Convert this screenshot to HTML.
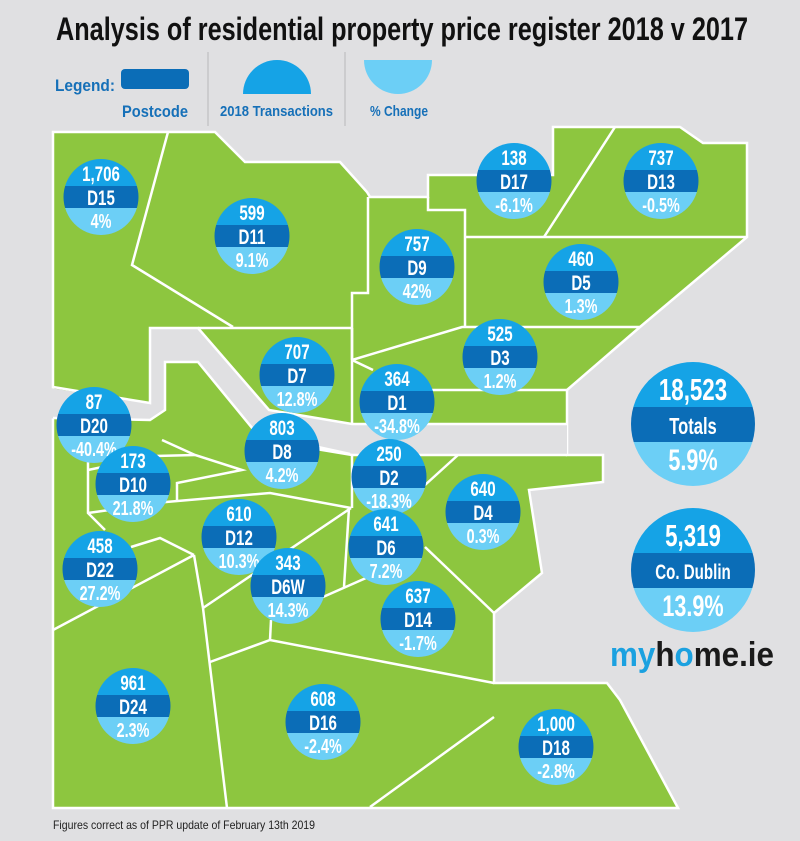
<!DOCTYPE html>
<html><head><meta charset="utf-8"><style>
html,body{margin:0;padding:0;background:#e0e0e2;}
svg{display:block;}
.t{font-family:"Liberation Sans",sans-serif;font-weight:bold;fill:#fff;text-anchor:middle;transform:scaleX(0.72);}
</style></head><body>
<svg width="800" height="841" viewBox="0 0 800 841" xmlns="http://www.w3.org/2000/svg">
<defs>
<clipPath id="c"><ellipse cx="0" cy="0" rx="37.5" ry="38"/></clipPath>
<clipPath id="cb"><circle cx="0" cy="0" r="62"/></clipPath>
<g id="cc"><g clip-path="url(#c)"><rect x="-40" y="-40" width="80" height="29" fill="#15a3e6"/><rect x="-40" y="-11" width="80" height="22" fill="#0b6db7"/><rect x="-40" y="11" width="80" height="30" fill="#6ccff6"/></g></g>
</defs>
<rect width="800" height="841" fill="#e0e0e2"/>
<text x="402" y="40" text-anchor="middle" textLength="692" lengthAdjust="spacingAndGlyphs" style="font-family:'Liberation Sans',sans-serif;font-weight:bold;font-size:32px;fill:#111">Analysis of residential property price register 2018 v 2017</text>
<!-- legend -->
<text x="55" y="91" textLength="60" lengthAdjust="spacingAndGlyphs" style="font-family:'Liberation Sans',sans-serif;font-weight:bold;font-size:17px;fill:#1670b8">Legend:</text>
<rect x="121" y="69" width="68" height="20" rx="4" fill="#0b6db7"/>
<text x="122" y="117" textLength="66" lengthAdjust="spacingAndGlyphs" style="font-family:'Liberation Sans',sans-serif;font-weight:bold;font-size:17px;fill:#1670b8">Postcode</text>
<line x1="208" y1="52" x2="208" y2="126" stroke="#b8b8bb" stroke-width="1"/>
<path d="M243 94 A34 34 0 0 1 311 94 Z" fill="#15a3e6"/>
<text x="220" y="116" textLength="113" lengthAdjust="spacingAndGlyphs" style="font-family:'Liberation Sans',sans-serif;font-weight:bold;font-size:15px;fill:#1670b8">2018 Transactions</text>
<line x1="345" y1="52" x2="345" y2="126" stroke="#b8b8bb" stroke-width="1"/>
<path d="M364 60 L432 60 A34 34 0 0 1 364 60 Z" fill="#6ccff6"/>
<text x="370" y="116" textLength="58" lengthAdjust="spacingAndGlyphs" style="font-family:'Liberation Sans',sans-serif;font-weight:bold;font-size:15px;fill:#1670b8">% Change</text>
<!-- map -->
<polygon points="53,132 215,132 245,162 340,162 367,192 370,197 428,197 428,175 553,175 553,127 680,127 703,143 747,143 747,237 640,327 567,390 567,455 603,455 603,482 529,490 542,573 494,613 494,683 607,683 620,700 678,808 53,808" fill="#8dc63f" stroke="#fff" stroke-width="2.5"/>
<polygon points="30,385 150,403 150,328 198,328 269,410 352,424 567,424 567,455 352,455 262,440 198,362 165,362 165,410 150,420 30,418" fill="#e0e0e2"/>
<g stroke="#fff" stroke-width="2.5" fill="none">
<polyline points="53,387 150,403 150,328 198,328 269,410 352,424 567,424"/>
<polyline points="567,455 352,455 262,440 198,362 165,362 165,410 150,420 53,418"/>
<polyline points="168,132 132,265 233,327"/>
<polyline points="198,328 352,328"/>
<polyline points="368,197 368,293 352,293 352,360"/>
<polyline points="352,360 462,327 640,327"/>
<polyline points="428,197 428,210 465,210 465,328"/>
<line x1="615" y1="127" x2="544" y2="237"/>
<line x1="465" y1="237" x2="747" y2="237"/>
<line x1="352" y1="328" x2="352" y2="424"/>
<line x1="352" y1="360" x2="373" y2="370"/>
<polyline points="430,390 567,390"/>
<polyline points="162,440 195,455 242,470 177,483 177,502"/>
<line x1="155" y1="456" x2="195" y2="455"/>
<polyline points="88,445 88,513 105,530"/>
<line x1="88" y1="470" x2="155" y2="456"/>
<polyline points="166,502 270,493 351,508"/>
<line x1="318" y1="447" x2="350" y2="454"/>
<line x1="458" y1="455" x2="425" y2="485"/>
<line x1="352" y1="455" x2="352" y2="508"/>
<line x1="88" y1="513" x2="166" y2="502"/>
<polyline points="131,547 160,538 194,555"/>
<line x1="53" y1="630" x2="194" y2="555"/>
<polyline points="194,555 203,608 227,808"/>
<line x1="203" y1="608" x2="351" y2="508"/>
<polyline points="210,662 270,640 494,683"/>
<line x1="270" y1="640" x2="271" y2="620"/>
<line x1="344" y1="587" x2="349" y2="508"/>
<line x1="323" y1="597" x2="366" y2="578"/>
<line x1="494" y1="717" x2="370" y2="807"/>
<line x1="425" y1="547" x2="494" y2="613"/>
</g>
<!-- circles -->
<g transform="translate(101,197)"><use href="#cc"/><text class="t" y="-16" font-size="21">1,706</text><text class="t" y="8" font-size="21">D15</text><text class="t" y="31" font-size="20">4%</text></g>
<g transform="translate(252,236)"><use href="#cc"/><text class="t" y="-16" font-size="21">599</text><text class="t" y="8" font-size="21">D11</text><text class="t" y="31" font-size="20">9.1%</text></g>
<g transform="translate(514,181)"><use href="#cc"/><text class="t" y="-16" font-size="21">138</text><text class="t" y="8" font-size="21">D17</text><text class="t" y="31" font-size="20">-6.1%</text></g>
<g transform="translate(661,181)"><use href="#cc"/><text class="t" y="-16" font-size="21">737</text><text class="t" y="8" font-size="21">D13</text><text class="t" y="31" font-size="20">-0.5%</text></g>
<g transform="translate(417,267)"><use href="#cc"/><text class="t" y="-16" font-size="21">757</text><text class="t" y="8" font-size="21">D9</text><text class="t" y="31" font-size="20">42%</text></g>
<g transform="translate(581,282)"><use href="#cc"/><text class="t" y="-16" font-size="21">460</text><text class="t" y="8" font-size="21">D5</text><text class="t" y="31" font-size="20">1.3%</text></g>
<g transform="translate(500,357)"><use href="#cc"/><text class="t" y="-16" font-size="21">525</text><text class="t" y="8" font-size="21">D3</text><text class="t" y="31" font-size="20">1.2%</text></g>
<g transform="translate(297,375)"><use href="#cc"/><text class="t" y="-16" font-size="21">707</text><text class="t" y="8" font-size="21">D7</text><text class="t" y="31" font-size="20">12.8%</text></g>
<g transform="translate(397,402)"><use href="#cc"/><text class="t" y="-16" font-size="21">364</text><text class="t" y="8" font-size="21">D1</text><text class="t" y="31" font-size="20">-34.8%</text></g>
<g transform="translate(94,425)"><use href="#cc"/><text class="t" y="-16" font-size="21">87</text><text class="t" y="8" font-size="21">D20</text><text class="t" y="31" font-size="20">-40.4%</text></g>
<g transform="translate(282,451)"><use href="#cc"/><text class="t" y="-16" font-size="21">803</text><text class="t" y="8" font-size="21">D8</text><text class="t" y="31" font-size="20">4.2%</text></g>
<g transform="translate(133,484)"><use href="#cc"/><text class="t" y="-16" font-size="21">173</text><text class="t" y="8" font-size="21">D10</text><text class="t" y="31" font-size="20">21.8%</text></g>
<g transform="translate(389,477)"><use href="#cc"/><text class="t" y="-16" font-size="21">250</text><text class="t" y="8" font-size="21">D2</text><text class="t" y="31" font-size="20">-18.3%</text></g>
<g transform="translate(483,512)"><use href="#cc"/><text class="t" y="-16" font-size="21">640</text><text class="t" y="8" font-size="21">D4</text><text class="t" y="31" font-size="20">0.3%</text></g>
<g transform="translate(239,537)"><use href="#cc"/><text class="t" y="-16" font-size="21">610</text><text class="t" y="8" font-size="21">D12</text><text class="t" y="31" font-size="20">10.3%</text></g>
<g transform="translate(386,547)"><use href="#cc"/><text class="t" y="-16" font-size="21">641</text><text class="t" y="8" font-size="21">D6</text><text class="t" y="31" font-size="20">7.2%</text></g>
<g transform="translate(288,586)"><use href="#cc"/><text class="t" y="-16" font-size="21">343</text><text class="t" y="8" font-size="21">D6W</text><text class="t" y="31" font-size="20">14.3%</text></g>
<g transform="translate(100,569)"><use href="#cc"/><text class="t" y="-16" font-size="21">458</text><text class="t" y="8" font-size="21">D22</text><text class="t" y="31" font-size="20">27.2%</text></g>
<g transform="translate(418,619)"><use href="#cc"/><text class="t" y="-16" font-size="21">637</text><text class="t" y="8" font-size="21">D14</text><text class="t" y="31" font-size="20">-1.7%</text></g>
<g transform="translate(133,706)"><use href="#cc"/><text class="t" y="-16" font-size="21">961</text><text class="t" y="8" font-size="21">D24</text><text class="t" y="31" font-size="20">2.3%</text></g>
<g transform="translate(323,722)"><use href="#cc"/><text class="t" y="-16" font-size="21">608</text><text class="t" y="8" font-size="21">D16</text><text class="t" y="31" font-size="20">-2.4%</text></g>
<g transform="translate(556,747)"><use href="#cc"/><text class="t" y="-16" font-size="21">1,000</text><text class="t" y="8" font-size="21">D18</text><text class="t" y="31" font-size="20">-2.8%</text></g>
<!-- big -->
<g transform="translate(693,424)"><g clip-path="url(#cb)"><rect x="-65" y="-65" width="130" height="48" fill="#15a3e6"/><rect x="-65" y="-17" width="130" height="35" fill="#0b6db7"/><rect x="-65" y="18" width="130" height="50" fill="#6ccff6"/></g><text class="t" y="-24" font-size="31">18,523</text><text class="t" y="10" font-size="23">Totals</text><text class="t" y="46" font-size="30">5.9%</text></g>
<g transform="translate(693,570)"><g clip-path="url(#cb)"><rect x="-65" y="-65" width="130" height="48" fill="#15a3e6"/><rect x="-65" y="-17" width="130" height="35" fill="#0b6db7"/><rect x="-65" y="18" width="130" height="50" fill="#6ccff6"/></g><text class="t" y="-24" font-size="31">5,319</text><text class="t" y="9" font-size="21">Co. Dublin</text><text class="t" y="46" font-size="30">13.9%</text></g>
<text x="610" y="666" textLength="164" lengthAdjust="spacingAndGlyphs" style="font-family:'Liberation Sans',sans-serif;font-weight:bold;font-size:34px;fill:#1a1a1a"><tspan fill="#1ba1e0">my</tspan>h<tspan fill="#1ba1e0">o</tspan>me.ie</text>
<text x="53" y="829" textLength="262" lengthAdjust="spacingAndGlyphs" style="font-family:'Liberation Sans',sans-serif;font-size:12px;fill:#222">Figures correct as of PPR update of February 13th 2019</text>
</svg>
</body></html>
